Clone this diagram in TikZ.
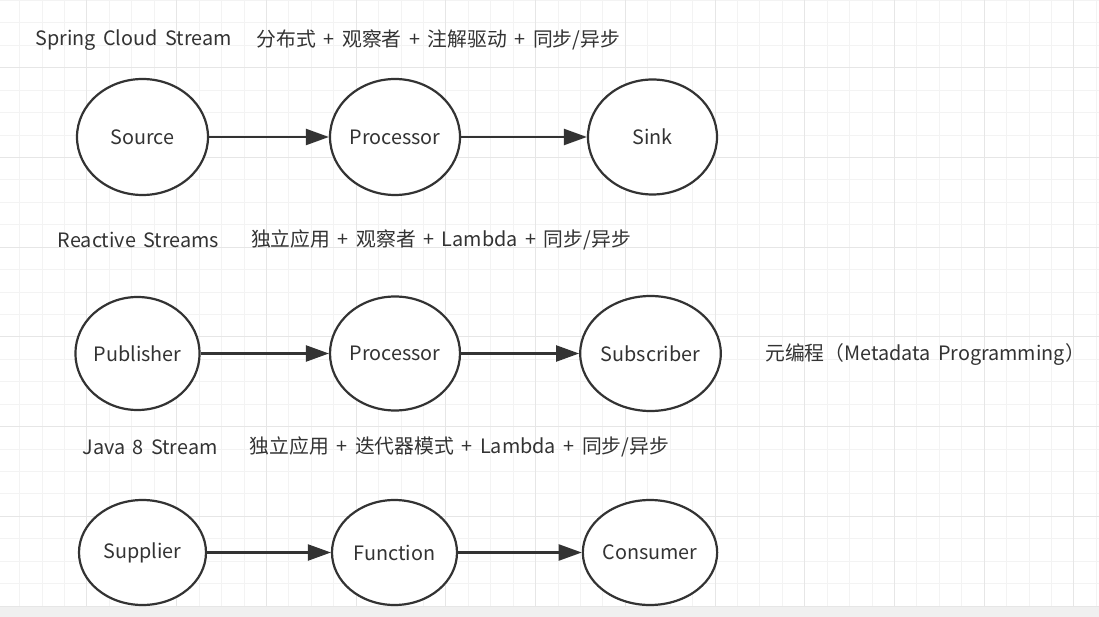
\documentclass[tikz,border=0pt]{standalone}
\usepackage{fontspec}
\setmainfont[WordSpace=1.7]{Noto Sans CJK SC}
\usetikzlibrary{shapes.geometric,arrows.meta}
\definecolor{ink}{HTML}{333333}
\definecolor{gridminor}{HTML}{F3F3F3}
\definecolor{gridmajor}{HTML}{E6E6E6}
\definecolor{band}{HTML}{F0F0F0}

\begin{document}
\begin{tikzpicture}[x=1pt,y=-1pt,font=\fontsize{19.8}{24}\selectfont,
  stage/.style={ellipse,draw=ink,line width=2.2pt,fill=white,inner sep=0pt,text=ink},
  flow/.style={draw=ink,line width=2.2pt,-{Triangle[length=23pt,width=16pt]}},
  caption/.style={text=ink,inner sep=0pt}]
\useasboundingbox (0,0) rectangle (1099,617);
\fill [white] (0,0) rectangle (1099,607);
\foreach \i in {0,...,48} \draw [gridminor,line width=1pt] (19.7+22.43*\i,0) -- (19.7+22.43*\i,607);
\foreach \j in {0,...,27} \draw [gridminor,line width=1pt] (0,0.5+22.43*\j) -- (1099,0.5+22.43*\j);
\foreach \i in {3,7,...,47} \draw [gridmajor,line width=1pt] (19.7+22.43*\i,0) -- (19.7+22.43*\i,607);
\foreach \j in {3,7,...,27} \draw [gridmajor,line width=1pt] (0,0.5+22.43*\j) -- (1099,0.5+22.43*\j);
\fill [band] (0,607) rectangle (1099,617);
% captions
\node [caption] (scs) at (133.5,40) {Spring Cloud Stream};
\node [caption] (scsnote) at (438.5,40) {分布式 + 观察者 + 注解驱动 + 同步/异步};
\node [caption] (rs) at (138.5,240) {Reactive Streams};
\node [caption] (rsnote) at (441,240) {独立应用 + 观察者 + Lambda + 同步/异步};
\node [caption] (meta) at (925,354) {元编程（Metadata Programming）};
\node [caption] (js) at (150,447) {Java 8 Stream};
\node [caption] (jsnote) at (459.5,447) {独立应用 + 迭代器模式 + Lambda + 同步/异步};
% Spring Cloud Stream
\node [stage,minimum width=131pt,minimum height=116pt] (source) at (142.5,137) {Source};
\node [stage,minimum width=130pt,minimum height=116pt] (proc) at (395,137) {Processor};
\node [stage,minimum width=129pt,minimum height=115pt] (sink) at (652.5,137) {Sink};
\draw [flow] (source) -- (proc);
\draw [flow] (proc) -- (sink);
% Reactive Streams
\node [stage,minimum width=117pt,minimum height=113pt] (pub) at (137.5,353.5) {Publisher};
\node [stage,minimum width=130pt,minimum height=114pt] (rproc) at (395,353.5) {Processor};
\node [stage,minimum width=131pt,minimum height=115pt] (sub) at (650.5,353.5) {Subscriber};
\draw [flow] (pub) -- (rproc);
\draw [flow] (rproc) -- (sub);
% Java 8 Stream
\node [stage,minimum width=127pt,minimum height=105pt] (supp) at (142.5,552.5) {Supplier};
\node [stage,minimum width=125pt,minimum height=105pt] (func) at (394.5,552.5) {Function};
\node [stage,minimum width=124pt,minimum height=105pt] (cons) at (650,552.5) {Consumer};
\draw [flow] (supp) -- (func);
\draw [flow] (func) -- (cons);
\end{tikzpicture}
\end{document}
